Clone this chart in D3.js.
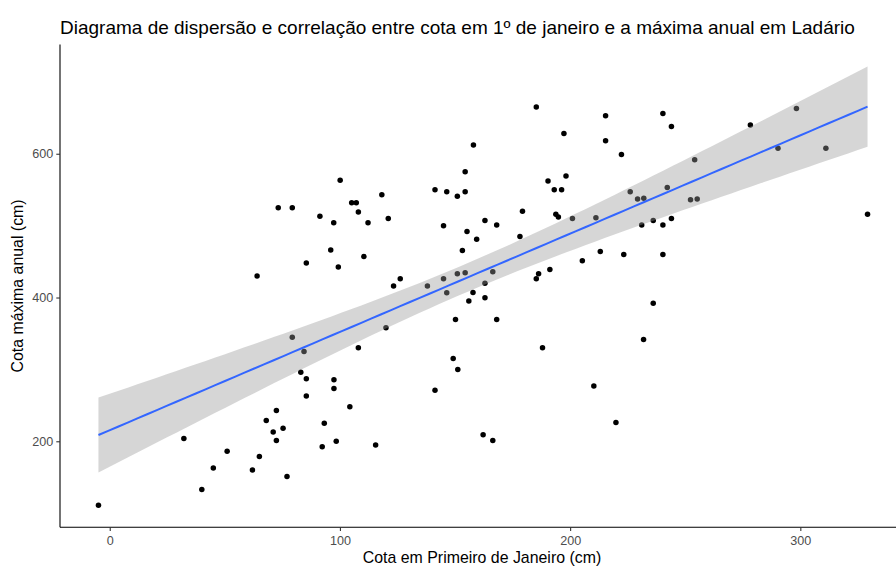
<!DOCTYPE html>
<html><head><meta charset="utf-8">
<script src="https://cdn.jsdelivr.net/npm/d3@7"></script>
<style>body{margin:0;background:#fff;overflow:hidden} svg{display:block}</style>
</head><body><svg id="c" width="896" height="567"></svg>
<script>
const cotaJaneiro = [-4.9,32.2,40,45,51,62,65,68,71,72.4,
72.4,75.3,73.2,64,79.3,91.3,97.3,100.1,105.1,107.1,
108,112.2,118.2,121,96,85.4,99.3,110.4,123.3,126.2,
138,145,146.4,151,154.4,156,157.8,163,163,141.3,
146.4,151,154.4,154.4,158,145,155.2,159.4,153.2,163,
79.3,84.4,83,85.4,85.4,77,97.4,97.4,108,120,
104.3,93.2,92.3,98.4,115.5,141.3,149.2,151.2,150.2,162.2,
166.4,185.3,215.4,240.3,244,197.3,215.4,222.3,190.4,198.2,
193.1,196.3,168.1,179.3,193.8,194.9,178.2,201,211.2,226.1,
229.3,232,242.2,254.1,252.3,255.2,231.1,236.1,240.3,244,
205.3,213.1,223.3,240.3,166.4,186.3,185.3,191.2,236.1,168.1,
188,231.9,210.3,219.9,298.3,278.3,290.3,311.1,329.2];
const cotaMaxima = [111,204,133,163,186,160,179,229,213,243,
201,218,525,430,525,513,504,563,532,532,
519,504,543,510,466,448,442.5,457,416,426,
416,426,406.5,433,434.6,395,407,420,399.6,550,
547,541,547,575,612,500,492,481,465.5,507,
344.6,325,296,287,263,151,285.6,273.6,330,358,
248,225,192.4,200,195,271,315,300,369.5,209,
201,665,653,656,638,628,618,599,562,569,
550,550,501,520,516,512,485,510,511,547,
537,538,553,591.5,536,537,501,507,501,510,
451,464,460,460,436,433,426,439,392,369.5,
330,341.5,277,226,663,640,607.5,607.5,516];
const xTicks = [0,100,200,300];
const yTicks = [200,400,600];
const titulo = "Diagrama de dispersão e correlação entre cota em 1º de janeiro e a máxima anual em Ladário";
const tituloX = "Cota em Primeiro de Janeiro (cm)";
const tituloY = "Cota máxima anual (cm)";

const data = cotaJaneiro.map((x,i)=>({x, y: cotaMaxima[i]}));
const n = data.length;
const xm = d3.mean(data,d=>d.x), ym = d3.mean(data,d=>d.y);
const sxx = d3.sum(data,d=>(d.x-xm)**2);
const sxy = d3.sum(data,d=>(d.x-xm)*(d.y-ym));
const b = sxy/sxx, a = ym - b*xm;
const sse = d3.sum(data,d=>(d.y-(a+b*d.x))**2);
const s = Math.sqrt(sse/(n-2));
const df = n-2, z = 1.959964;
const tq = z + (z**3+z)/(4*df) + (5*z**5+16*z**3+3*z)/(96*df*df);
const [x0,x1] = d3.extent(data,d=>d.x);
const fit = d3.range(80).map(i=>{
  const x = x0 + (x1-x0)*i/79;
  const yh = a+b*x;
  const se = s*Math.sqrt(1/n + (x-xm)**2/sxx);
  return {x, y: yh, lo: yh-tq*se, hi: yh+tq*se};
});

const yMin = Math.min(d3.min(data,d=>d.y), d3.min(fit,d=>d.lo));
const yMax = Math.max(d3.max(data,d=>d.y), d3.max(fit,d=>d.hi));
const ex = (x1-x0)*0.05, ey = (yMax-yMin)*0.05;

const L = 60, R = 906, T = 44.6, B = 527.2;
const xs = d3.scaleLinear().domain([x0-ex, x1+ex]).range([L,R]);
const ys = d3.scaleLinear().domain([yMin-ey, yMax+ey]).range([B,T]);

const svg = d3.select("#c");
const font = "'Liberation Sans', Arial, sans-serif";

// points
svg.append("g").selectAll("circle").data(data).join("circle")
  .attr("cx",d=>xs(d.x)).attr("cy",d=>ys(d.y)).attr("r",2.75).attr("fill","#000");

// ribbon
svg.append("path").datum(fit)
  .attr("d", d3.area().x(d=>xs(d.x)).y0(d=>ys(d.lo)).y1(d=>ys(d.hi)))
  .attr("fill","#999999").attr("fill-opacity",0.4);
// line
svg.append("path").datum(fit)
  .attr("d", d3.line().x(d=>xs(d.x)).y(d=>ys(d.y)))
  .attr("fill","none").attr("stroke","#3366FF").attr("stroke-width",2);

// axes
const gx = svg.append("g").attr("transform",`translate(0,${B})`)
  .call(d3.axisBottom(xs).tickValues(xTicks).tickSize(3.7).tickPadding(5).tickFormat(d3.format("d")));
const gy = svg.append("g").attr("transform",`translate(${L},0)`)
  .call(d3.axisLeft(ys).tickValues(yTicks).tickSize(3.7).tickPadding(3).tickFormat(d3.format("d")));
[gx,gy].forEach(g=>{
  g.select(".domain").attr("stroke","#000").attr("stroke-width",1.1);
  g.selectAll(".tick line").attr("stroke","#333333").attr("stroke-width",1.1);
  g.selectAll(".tick text").attr("fill","#4d4d4d").attr("font-family",font).attr("font-size","12.6px");
});
gx.select(".domain").attr("d",`M${L},0H${R}`);
gy.select(".domain").attr("d",`M0,${B}V${T}`);

svg.append("text").attr("x",L).attr("y",34).attr("font-family",font).attr("font-size","19px")
  .attr("fill","#000").text(titulo);
svg.append("text").attr("x",482).attr("y",562.5).attr("text-anchor","middle")
  .attr("font-family",font).attr("font-size","15.9px").attr("fill","#000").text(tituloX);
svg.append("text").attr("transform",`translate(23,${(T+B)/2}) rotate(-90)`).attr("text-anchor","middle")
  .attr("font-family",font).attr("font-size","15.9px").attr("fill","#000").text(tituloY);
</script></body></html>
